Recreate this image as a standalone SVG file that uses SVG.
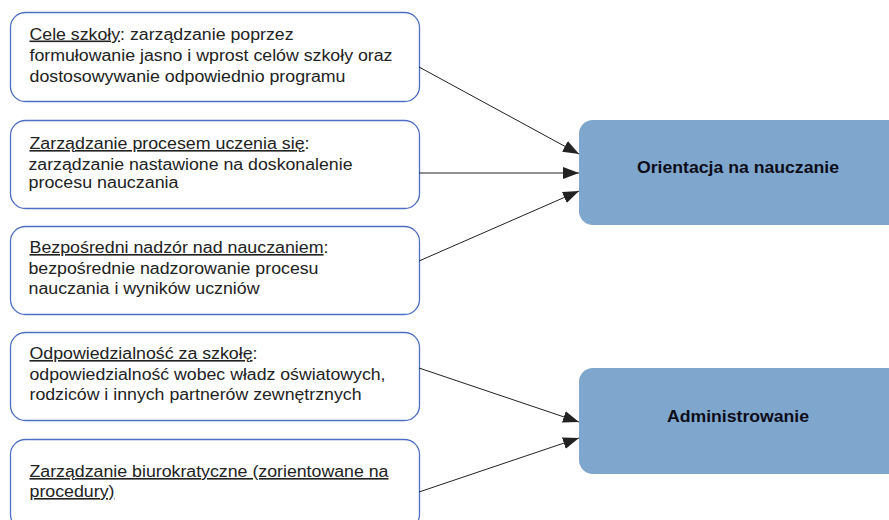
<svg xmlns="http://www.w3.org/2000/svg" width="889" height="520" viewBox="0 0 889 520">
<style>
.src{fill:#fff;stroke:#4f6fc4;stroke-width:1.3}
.dst{fill:#7fa6cc;stroke:none}
.t{font-family:"Liberation Sans",Arial,sans-serif;font-size:16px;fill:#222}
.u{text-decoration:underline}
.b{font-family:"Liberation Sans",Arial,sans-serif;font-size:17px;font-weight:bold;fill:#0d0d1a;text-anchor:middle}
.c{stroke:#222;stroke-width:1;fill:none;marker-end:url(#ah)}
</style>
<defs>
<marker id="ah" markerWidth="16" markerHeight="12" refX="16" refY="6" orient="auto" markerUnits="userSpaceOnUse">
<path d="M0,0 L16,6 L0,12 Z" fill="#222"/>
</marker>
</defs>
<rect width="889" height="520" fill="#fff"/>
<g id="n1">
<rect class="src" x="10.5" y="12.5" width="409" height="89" rx="15"/>
<text class="t" x="29.5" y="39.5" textLength="264" lengthAdjust="spacingAndGlyphs"><tspan class="u">Cele szkoły</tspan>: zarządzanie poprzez</text>
<text class="t" x="29.5" y="61" textLength="363" lengthAdjust="spacingAndGlyphs">formułowanie jasno i wprost celów szkoły oraz</text>
<text class="t" x="29.5" y="82" textLength="316" lengthAdjust="spacingAndGlyphs">dostosowywanie odpowiednio programu</text>
</g>
<g id="n2">
<rect class="src" x="10.5" y="120.5" width="409" height="88" rx="15"/>
<text class="t" x="29.5" y="149" textLength="280" lengthAdjust="spacingAndGlyphs"><tspan class="u">Zarządzanie procesem uczenia się</tspan>:</text>
<text class="t" x="28.5" y="170" textLength="324" lengthAdjust="spacingAndGlyphs">zarządzanie nastawione na doskonalenie</text>
<text class="t" x="28.5" y="188" textLength="150" lengthAdjust="spacingAndGlyphs">procesu nauczania</text>
</g>
<g id="n3">
<rect class="src" x="10.5" y="226.5" width="409" height="88" rx="15"/>
<text class="t" x="29.5" y="253" textLength="299" lengthAdjust="spacingAndGlyphs"><tspan class="u">Bezpośredni nadzór nad nauczaniem</tspan>:</text>
<text class="t" x="28.5" y="274" textLength="290" lengthAdjust="spacingAndGlyphs">bezpośrednie nadzorowanie procesu</text>
<text class="t" x="28.5" y="294" textLength="231" lengthAdjust="spacingAndGlyphs">nauczania i wyników uczniów</text>
</g>
<g id="n4">
<rect class="src" x="10.5" y="332.5" width="409" height="88" rx="15"/>
<text class="t" x="29.5" y="359" textLength="228" lengthAdjust="spacingAndGlyphs"><tspan class="u">Odpowiedzialność za szkołę</tspan>:</text>
<text class="t" x="29.5" y="380" textLength="356" lengthAdjust="spacingAndGlyphs">odpowiedzialność wobec władz oświatowych,</text>
<text class="t" x="29.5" y="400" textLength="332" lengthAdjust="spacingAndGlyphs">rodziców i innych partnerów zewnętrznych</text>
</g>
<g id="n5">
<rect class="src" x="10.5" y="439.5" width="409" height="90" rx="15"/>
<text class="t u" x="29.5" y="477" textLength="359" lengthAdjust="spacingAndGlyphs">Zarządzanie biurokratyczne (zorientowane na</text>
<text class="t u" x="29.5" y="497" textLength="85" lengthAdjust="spacingAndGlyphs">procedury)</text>
</g>
<g id="n6">
<rect class="dst" x="579" y="120" width="330" height="105" rx="14"/>
<text class="b" x="738" y="173" textLength="202" lengthAdjust="spacingAndGlyphs">Orientacja na nauczanie</text>
</g>
<g id="n7">
<rect class="dst" x="579" y="368" width="330" height="106" rx="14"/>
<text class="b" x="738" y="422" textLength="142" lengthAdjust="spacingAndGlyphs">Administrowanie</text>
</g>
<g id="connectors">
<line class="c" x1="419" y1="67" x2="579" y2="154"/>
<line class="c" x1="419" y1="173" x2="579" y2="173"/>
<line class="c" x1="419" y1="261" x2="579" y2="191"/>
<line class="c" x1="419" y1="368" x2="579" y2="422"/>
<line class="c" x1="419" y1="492" x2="579" y2="438"/>
</g>
</svg>
